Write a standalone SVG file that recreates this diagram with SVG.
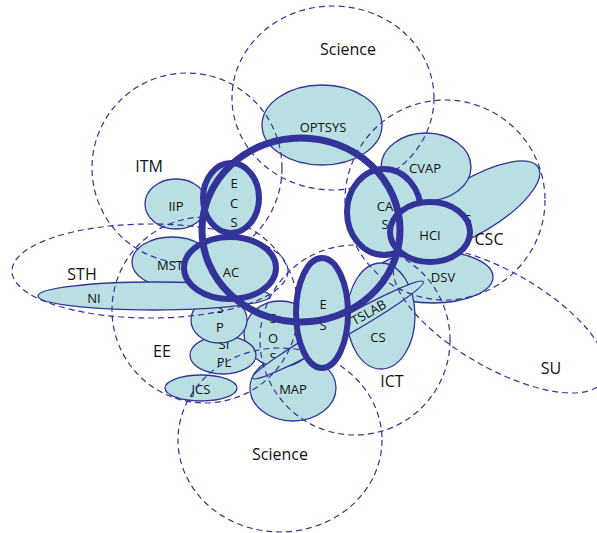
<svg xmlns="http://www.w3.org/2000/svg" width="597" height="533" viewBox="0 0 597 533">
<style>
.n{fill:#b9dfe3;stroke:#333399;stroke-width:1.3}
.k{fill:#b9dfe3;stroke:#333399;stroke-width:6}
.d{fill:none;stroke:#333399;stroke-width:1.2;stroke-dasharray:6 4}
.t{font-family:"Open Sans","Noto Sans",sans-serif;font-size:13px;fill:#111;text-anchor:middle}
.g{font-family:"Open Sans","Noto Sans",sans-serif;font-size:16px;fill:#111;text-anchor:middle}
</style>
<rect width="597" height="533" fill="#fff"/>
<g id="connectors"></g>
<!-- thin filled nodes -->
<g id="CSS"><ellipse class="n" cx="474" cy="206" rx="75" ry="27" transform="rotate(-31 474 206)"/><text class="t" x="468" y="224">S</text></g>
<g id="OPTSYS"><ellipse class="n" cx="322" cy="125" rx="60" ry="40"/><text class="t" x="323" y="132">OPTSYS</text></g>
<g id="CVAP"><ellipse class="n" cx="426" cy="167" rx="45" ry="34"/><text class="t" x="425" y="173">CVAP</text></g>
<g id="DSV"><ellipse class="n" cx="433" cy="277" rx="60" ry="26"/><text class="t" x="443" y="282">DSV</text></g>
<g id="CS"><ellipse class="n" cx="381" cy="316" rx="34" ry="53"/><text class="t" x="378" y="342">CS</text></g>
<g id="MAP"><ellipse class="n" cx="293" cy="388" rx="43" ry="33"/><text class="t" x="293" y="394">MAP</text></g>
<g id="SOS"><ellipse class="n" cx="280" cy="334" rx="36" ry="33"/><text class="t" x="273" y="323">S</text><text class="t" x="273" y="343">O</text><text class="t" x="273" y="362">S</text></g>
<g id="TSLAB"><ellipse class="n" cx="338" cy="330" rx="98" ry="9" transform="rotate(-29.5 338 330)"/><text class="t" x="369" y="317" transform="rotate(-29.5 369 313)">TSLAB</text></g>
<g id="SIPL"><ellipse class="n" cx="223" cy="355" rx="33" ry="19"/><text class="t" x="224" y="349">SI</text><text class="t" x="224" y="367">PL</text></g>
<g id="SP"><ellipse class="n" cx="219" cy="320" rx="28" ry="23"/><text class="t" x="220" y="313">S</text><text class="t" x="220" y="332">P</text></g>
<g id="JCS"><ellipse class="n" cx="201" cy="388" rx="36" ry="13"/><text class="t" x="201" y="394">JCS</text></g>
<g id="IIP"><ellipse class="n" cx="176" cy="204" rx="31" ry="25"/><text class="t" x="176" y="211">IIP</text></g>
<g id="MST"><ellipse class="n" cx="172" cy="262" rx="40" ry="25"/><text class="t" x="170" y="270">MST</text></g>
<g id="NI"><ellipse class="n" cx="154" cy="296" rx="116" ry="14"/><text class="t" x="94" y="303">NI</text></g>
<!-- dashed groups -->
<g id="Science-top"><ellipse class="d" cx="333" cy="98" rx="101" ry="92"/><text class="g" x="348" y="55">Science</text></g>
<g id="ITM"><circle class="d" cx="187" cy="168" r="95"/><text class="g" x="149" y="172">ITM</text></g>
<g id="CSC"><circle class="d" cx="445" cy="200" r="100"/><text class="g" x="489" y="245">CSC</text></g>
<g id="STH"><ellipse class="d" cx="150" cy="271" rx="138" ry="47"/><text class="g" x="82" y="280">STH</text></g>
<g id="EE"><circle class="d" cx="205" cy="310" r="93"/><text class="g" x="162" y="357">EE</text></g>
<g id="ICT"><circle class="d" cx="355" cy="340" r="95"/><text class="g" x="392" y="387">ICT</text></g>
<g id="SU"><ellipse class="d" cx="500" cy="320" rx="120" ry="48" transform="rotate(30 500 320)"/><text class="g" x="551" y="374">SU</text></g>
<g id="Science-bottom"><ellipse class="d" cx="280" cy="440" rx="102" ry="92"/><text class="g" x="280" y="460">Science</text></g>
<!-- thick ring nodes -->
<g id="ECS"><ellipse class="k" cx="231" cy="198" rx="28" ry="35"/><text class="t" x="234" y="188">E</text><text class="t" x="234" y="208">C</text><text class="t" x="234" y="227">S</text></g>
<g id="AC"><ellipse class="k" cx="230" cy="268" rx="46" ry="31"/><text class="t" x="231" y="277">AC</text></g>
<g id="CAS"><ellipse class="k" cx="384" cy="212" rx="37" ry="43"/><text class="t" x="385" y="211">CA</text><text class="t" x="385" y="229">S</text></g>
<g id="HCI"><ellipse class="k" cx="430" cy="232" rx="40" ry="30"/><text class="t" x="430" y="240">HCI</text></g>
<g id="ES"><ellipse class="k" cx="322" cy="313" rx="26" ry="55"/><text class="t" x="323" y="309">E</text><text class="t" x="323" y="330">S</text></g>
<g id="big-ring"><ellipse cx="301" cy="230" rx="99" ry="92" fill="none" stroke="#333399" stroke-width="7"/></g>
</svg>
